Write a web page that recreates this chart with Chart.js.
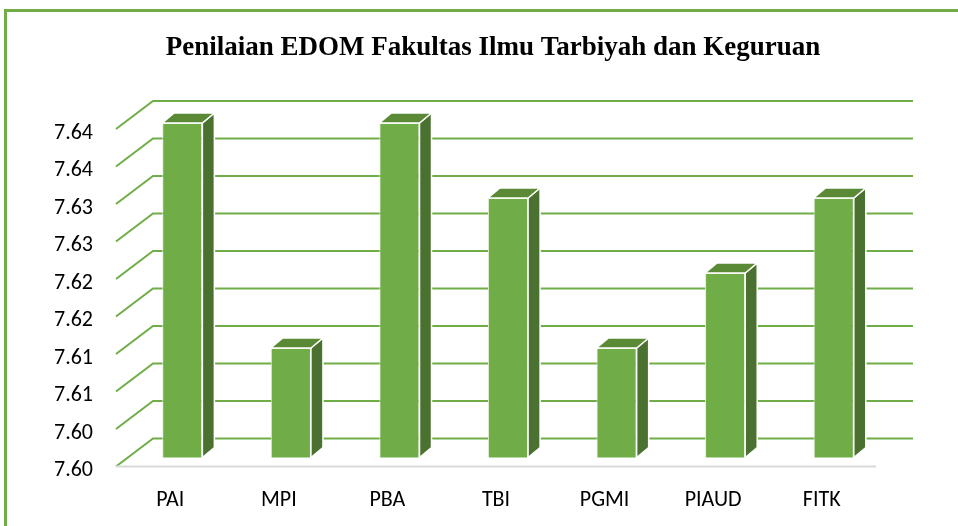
<!DOCTYPE html>
<html>
<head>
<meta charset="utf-8">
<script src="https://cdn.jsdelivr.net/npm/chart.js@4.4.1/dist/chart.umd.min.js"></script>
<style>
  html, body { margin: 0; padding: 0; background: #fff; }
  canvas { display: block; }
</style>
</head>
<body>
<canvas id="edomChart" width="958" height="526" style="width:958px;height:526px"></canvas>
<script>
// Chart data
const programNames = ['PAI', 'MPI', 'PBA', 'TBI', 'PGMI', 'PIAUD', 'FITK'];
const edomScores = [7.6446, 7.6146, 7.6446, 7.6346, 7.6146, 7.6246, 7.6346];
const yTickLabels = ['7.60', '7.60', '7.61', '7.61', '7.62', '7.62', '7.63', '7.63', '7.64', '7.64'];
const yMin = 7.600;
const yMax = 7.645;
const yStep = 0.005;

const chartTitle = 'Penilaian EDOM Fakultas Ilmu Tarbiyah dan Keguruan';
const labelFont = "Calibri, 'Open Sans', sans-serif";

// front plane (axis labels) sits left/below the bar plane, back wall sits right/above
const FRONT = { dx: -12, dy: 9 };
const BACK = { dx: 25, dy: -19 };
const DEPTH = { dx: 12, dy: -10 };

// frame + title
const framePlugin = {
    id: 'frame',
    beforeDraw(chart) {
        const ctx = chart.ctx;
        ctx.save();
        ctx.strokeStyle = '#70ad47';
        ctx.lineWidth = 3;
        ctx.beginPath();
        ctx.moveTo(5.5, 526);
        ctx.lineTo(5.5, 10.5);
        ctx.lineTo(958, 10.5);
        ctx.stroke();

        ctx.fillStyle = '#000';
        ctx.font = "bold 27px 'Times New Roman', 'Liberation Serif', serif";
        ctx.textAlign = 'center';
        ctx.textBaseline = 'middle';
        ctx.fillText(chartTitle, 493, 48);
        ctx.restore();
    }
};

// perspective gridlines on the side and back wall, plus floor edge
const wallPlugin = {
    id: 'wall3d',
    beforeDatasetsDraw(chart) {
        const ctx = chart.ctx;
        const a = chart.chartArea;
        const ys = chart.scales.y;
        ctx.save();
        ctx.strokeStyle = '#70ad47';
        ctx.lineWidth = 2;
        ys.ticks.forEach(t => {
            const y = ys.getPixelForValue(t.value);
            ctx.beginPath();
            ctx.moveTo(a.left + FRONT.dx, y + FRONT.dy);
            ctx.lineTo(a.left + BACK.dx, y + BACK.dy);
            ctx.lineTo(a.right + BACK.dx, y + BACK.dy);
            ctx.stroke();
        });
        const y0 = ys.getPixelForValue(yMin) + FRONT.dy;
        ctx.strokeStyle = '#d9d9d9';
        ctx.beginPath();
        ctx.moveTo(a.left + FRONT.dx, y0);
        ctx.lineTo(a.right + FRONT.dx, y0);
        ctx.stroke();
        ctx.restore();
    }
};

// top and side faces of each bar
const barFacesPlugin = {
    id: 'barFaces',
    afterDatasetsDraw(chart) {
        const ctx = chart.ctx;
        const meta = chart.getDatasetMeta(0);
        const floorY = chart.scales.y.getPixelForValue(yMin);
        ctx.save();
        ctx.strokeStyle = '#ffffff';
        ctx.lineWidth = 1.5;
        ctx.lineJoin = 'round';
        meta.data.forEach(bar => {
            const l = bar.x - bar.width / 2;
            const r = bar.x + bar.width / 2;
            const t = bar.y;
            const b = Math.min(bar.base, floorY);

            ctx.fillStyle = '#4b7130';
            ctx.beginPath();
            ctx.moveTo(r, t);
            ctx.lineTo(r + DEPTH.dx, t + DEPTH.dy);
            ctx.lineTo(r + DEPTH.dx, b + DEPTH.dy);
            ctx.lineTo(r, b);
            ctx.closePath();
            ctx.fill();
            ctx.stroke();

            ctx.fillStyle = '#5a8a36';
            ctx.beginPath();
            ctx.moveTo(l, t);
            ctx.lineTo(r, t);
            ctx.lineTo(r + DEPTH.dx, t + DEPTH.dy);
            ctx.lineTo(l + DEPTH.dx, t + DEPTH.dy);
            ctx.closePath();
            ctx.fill();
            ctx.stroke();
        });
        ctx.restore();
    }
};

new Chart(document.getElementById('edomChart'), {
    type: 'bar',
    data: {
        labels: programNames,
        datasets: [{
            data: edomScores,
            backgroundColor: '#70ad47',
            borderColor: '#e2efda',
            borderWidth: 1,
            barPercentage: 0.37,
            categoryPercentage: 1
        }]
    },
    options: {
        responsive: false,
        animation: false,
        devicePixelRatio: 1,
        layout: { padding: { top: 120, right: 70, bottom: 0, left: 0 } },
        plugins: {
            legend: { display: false },
            tooltip: { enabled: false },
            title: { display: false }
        },
        scales: {
            x: {
                grid: { display: false, drawTicks: false },
                border: { display: false },
                ticks: {
                    color: '#000',
                    font: { family: labelFont, size: 22 },
                    labelOffset: FRONT.dx,
                    padding: 30
                },
                afterFit(scale) { scale.height = 68.5; }
            },
            y: {
                min: yMin,
                max: yMax,
                grid: { display: false, drawTicks: false },
                border: { display: false },
                ticks: {
                    stepSize: yStep,
                    color: '#000',
                    font: { family: labelFont, size: 22 },
                    padding: 35,
                    labelOffset: 13,
                    callback: (v, i) => yTickLabels[i]
                },
                afterFit(scale) { scale.width = 128; }
            }
        }
    },
    plugins: [framePlugin, wallPlugin, barFacesPlugin]
});
</script>
</body>
</html>
